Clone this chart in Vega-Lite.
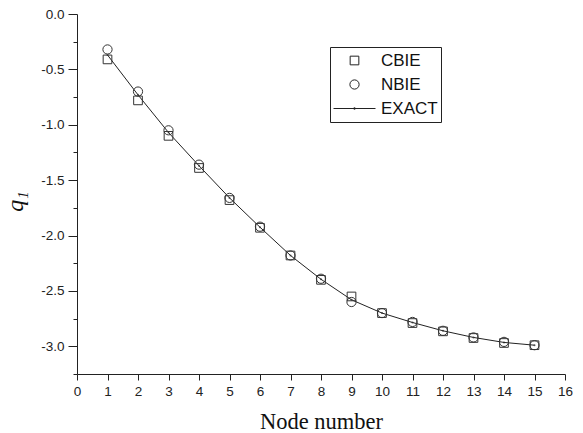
{
  "$schema": "https://vega.github.io/schema/vega-lite/v6.json",
  "width": 488,
  "height": 360,
  "autosize": "none",
  "padding": {"left": 77, "top": 14, "right": 18, "bottom": 59},
  "background": "white",
  "config": {
    "view": {"stroke": null},
    "locale": {"number": {"decimal": ".", "thousands": ",", "grouping": [3], "currency": ["$", ""], "minus": "-"}},
    "axis": {
      "domainColor": "#222", "tickColor": "#222", "grid": false,
      "labelFont": "Liberation Sans", "labelFontSize": 13.5, "labelColor": "#222",
      "titleFont": "Liberation Serif", "titleFontWeight": "normal", "titleColor": "#111"
    },
    "legend": {"labelFont": "Liberation Sans", "labelFontSize": 17, "labelColor": "#111"}
  },
  "data": {"values": [
    {"x": 1, "series": "CBIE", "v": -0.41}, {"x": 2, "series": "CBIE", "v": -0.78}, {"x": 3, "series": "CBIE", "v": -1.10},
    {"x": 4, "series": "CBIE", "v": -1.39}, {"x": 5, "series": "CBIE", "v": -1.68}, {"x": 6, "series": "CBIE", "v": -1.93},
    {"x": 7, "series": "CBIE", "v": -2.18}, {"x": 8, "series": "CBIE", "v": -2.40}, {"x": 9, "series": "CBIE", "v": -2.55},
    {"x": 10, "series": "CBIE", "v": -2.70}, {"x": 11, "series": "CBIE", "v": -2.79}, {"x": 12, "series": "CBIE", "v": -2.865},
    {"x": 13, "series": "CBIE", "v": -2.925}, {"x": 14, "series": "CBIE", "v": -2.97}, {"x": 15, "series": "CBIE", "v": -2.99},
    {"x": 1, "series": "NBIE", "v": -0.32}, {"x": 2, "series": "NBIE", "v": -0.70}, {"x": 3, "series": "NBIE", "v": -1.05},
    {"x": 4, "series": "NBIE", "v": -1.36}, {"x": 5, "series": "NBIE", "v": -1.66}, {"x": 6, "series": "NBIE", "v": -1.92},
    {"x": 7, "series": "NBIE", "v": -2.18}, {"x": 8, "series": "NBIE", "v": -2.39}, {"x": 9, "series": "NBIE", "v": -2.60},
    {"x": 10, "series": "NBIE", "v": -2.70}, {"x": 11, "series": "NBIE", "v": -2.78}, {"x": 12, "series": "NBIE", "v": -2.86},
    {"x": 13, "series": "NBIE", "v": -2.92}, {"x": 14, "series": "NBIE", "v": -2.96}, {"x": 15, "series": "NBIE", "v": -2.99},
    {"x": 1, "series": "EXACT", "v": -0.37}, {"x": 2, "series": "EXACT", "v": -0.73}, {"x": 3, "series": "EXACT", "v": -1.07},
    {"x": 4, "series": "EXACT", "v": -1.37}, {"x": 5, "series": "EXACT", "v": -1.66}, {"x": 6, "series": "EXACT", "v": -1.925},
    {"x": 7, "series": "EXACT", "v": -2.18}, {"x": 8, "series": "EXACT", "v": -2.395}, {"x": 9, "series": "EXACT", "v": -2.58},
    {"x": 10, "series": "EXACT", "v": -2.70}, {"x": 11, "series": "EXACT", "v": -2.785}, {"x": 12, "series": "EXACT", "v": -2.86},
    {"x": 13, "series": "EXACT", "v": -2.92}, {"x": 14, "series": "EXACT", "v": -2.965}, {"x": 15, "series": "EXACT", "v": -2.99}
  ]},
  "encoding": {
    "x": {
      "field": "x", "type": "quantitative",
      "scale": {"domain": [0, 16], "nice": false, "zero": false},
      "axis": {
        "values": [0,1,2,3,4,5,6,7,8,9,10,11,12,13,14,15,16],
        "tickSize": 6, "labelPadding": 4, "labelFlush": false,
        "title": "Node number", "titleFontSize": 22.5, "titlePadding": 13
      }
    },
    "y": {
      "field": "v", "type": "quantitative",
      "scale": {"domain": [-3.25, 0], "nice": false, "zero": false},
      "axis": {
        "values": [-3.25,-3.0,-2.75,-2.5,-2.25,-2.0,-1.75,-1.5,-1.25,-1.0,-0.75,-0.5,-0.25,0],
        "labelExpr": "abs(datum.value*2 - round(datum.value*2)) < 0.001 ? replace(format(datum.value, '.1f'), '\u2212', '-') : ''",
        "tickSize": {"condition": {"test": "abs(datum.value*2 - round(datum.value*2)) < 0.001", "value": 9}, "value": 4},
        "labelPadding": 4, "labelFlush": false,
        "title": "q₁", "titleFontSize": 24, "titleFontStyle": "italic", "titlePadding": 8,
        "titleX": -50, "titleY": 187
      }
    }
  },
  "layer": [
    {
      "transform": [{"filter": "datum.series === 'EXACT'"}],
      "mark": {"type": "line", "color": "#222", "strokeWidth": 1}
    },
    {
      "transform": [{"filter": "datum.series === 'EXACT'"}],
      "mark": {"type": "point", "filled": true, "color": "#222", "size": 4, "shape": "circle"}
    },
    {
      "transform": [{"filter": "datum.series !== 'EXACT'"}],
      "mark": {"type": "point", "filled": false, "color": "#333", "strokeWidth": 1, "opacity": 1},
      "encoding": {
        "shape": {
          "field": "series", "type": "nominal",
          "scale": {"domain": ["CBIE", "NBIE", "EXACT"], "range": ["square", "circle", "M-1,0H1M-0.03,-0.03H0.03V0.03H-0.03Z"]},
          "legend": {
            "title": null, "orient": "none", "legendX": 253, "legendY": 33,
            "strokeColor": "#222", "padding": 3, "rowPadding": 3, "labelOffset": 5, "clipHeight": 21,
            "symbolStrokeColor": "#222", "symbolFillColor": "transparent", "symbolStrokeWidth": 1,
            "cornerRadius": 0
          }
        },
        "size": {
          "field": "series", "type": "ordinal", "sort": ["CBIE", "NBIE", "EXACT"],
          "scale": {"type": "ordinal", "domain": ["CBIE", "NBIE", "EXACT"], "range": [75, 85, 1764]},
          "legend": {
            "title": null, "orient": "none", "legendX": 253, "legendY": 33,
            "strokeColor": "#222", "padding": 3, "rowPadding": 3, "labelOffset": 5, "clipHeight": 21,
            "symbolStrokeColor": "#222", "symbolFillColor": "transparent", "symbolStrokeWidth": 1,
            "cornerRadius": 0
          }
        }
      }
    }
  ]
}
